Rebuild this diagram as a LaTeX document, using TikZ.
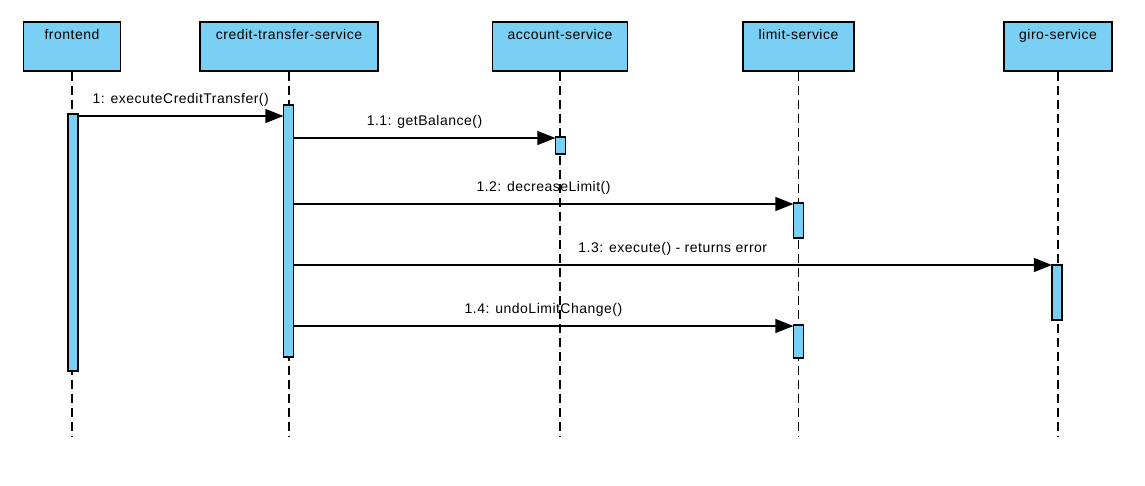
\documentclass[tikz,border=0pt]{standalone}
\usepackage{fontspec}
\setmainfont[LetterSpace=3.5]{Liberation Sans}
\usetikzlibrary{arrows.meta}
\definecolor{actblue}{RGB}{122,207,245}
\tikzset{
  actor/.style={draw=black, line width=1.4pt, fill=actblue, inner sep=0pt,
    text height=17pt, text depth=32pt, font=\fontsize{14}{16}\selectfont},
  act/.style={draw=black, line width=1.2pt, fill=actblue, inner sep=0pt, minimum width=10pt},
  lifeline/.style={draw=black, line width=1.2pt, dash pattern=on 9pt off 5pt},
  msg/.style={draw=black, line width=1.2pt, -{Triangle[length=18pt,width=14pt]}, shorten >=-0.5pt},
  lbl/.style={midway, above, inner sep=0pt, yshift=9pt, font=\fontsize{14}{16}\selectfont},
}
\begin{document}
\begin{tikzpicture}[x=1pt,y=-1pt]
\useasboundingbox (0,0) rectangle (1145,485);
% actor boxes
\node[actor, minimum width=97pt] (fe) at (72,46.5) {frontend};
\node[actor, minimum width=178pt] (cts) at (289,46.5) {credit-transfer-service};
\node[actor, minimum width=135pt] (acc) at (560,46.5) {account-service};
\node[actor, minimum width=111pt] (lim) at (798.5,46.5) {limit-service};
\node[actor, minimum width=108pt] (giro) at (1058,46.5) {giro-service};
% lifelines
\coordinate (bottom) at (0,437);
\draw[lifeline] (fe.south) -- (fe.south |- bottom);
\draw[lifeline] (cts.south) -- (cts.south |- bottom);
\draw[lifeline] (acc.south) -- (acc.south |- bottom);
\draw[lifeline] (lim.south) -- (lim.south |- bottom);
\draw[lifeline] (giro.south) -- (giro.south |- bottom);
% activations
\node[act, minimum height=257pt] (feA) at (73,242.5) {};
\node[act, minimum height=252pt] (ctsA) at (288.5,231) {};
\node[act, minimum height=17pt] (accA) at (560.5,145.5) {};
\node[act, minimum height=35pt] (limA1) at (798.5,220.5) {};
\node[act, minimum height=55pt] (giroA) at (1057,292.5) {};
\node[act, minimum height=33pt] (limA2) at (798.5,341.5) {};
% message rows
\coordinate (m1) at (0,116);
\coordinate (m11) at (0,138);
\coordinate (m12) at (0,204);
\coordinate (m13) at (0,265);
\coordinate (m14) at (0,326);
% messages
\draw[msg] (feA.east |- m1) -- node[lbl] {1: executeCreditTransfer()} (ctsA.west |- m1);
\draw[msg] (ctsA.east |- m11) -- node[lbl] {1.1: getBalance()} (accA.west |- m11);
\draw[msg] (ctsA.east |- m12) -- node[lbl] {1.2: decreaseLimit()} (limA1.west |- m12);
\draw[msg] (ctsA.east |- m13) -- node[lbl] {1.3: execute() - returns error} (giroA.west |- m13);
\draw[msg] (ctsA.east |- m14) -- node[lbl] {1.4: undoLimitChange()} (limA2.west |- m14);
\end{tikzpicture}
\end{document}
